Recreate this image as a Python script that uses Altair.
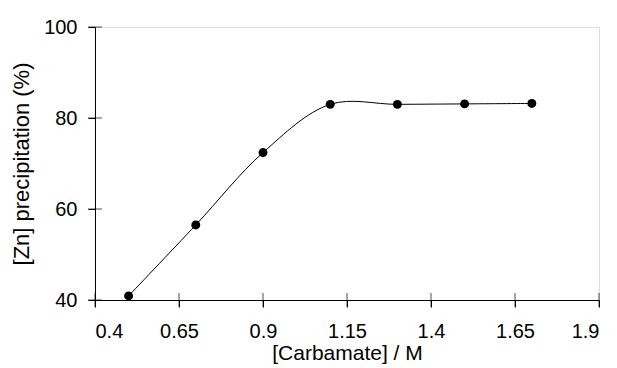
import altair as alt
import pandas as pd

carbamate = [0.5, 0.7, 0.9, 1.1, 1.3, 1.5, 1.7]
zn_precip = [40.9, 56.5, 72.4, 83.0, 83.0, 83.1, 83.2]
x_ticks = [0.4, 0.65, 0.9, 1.15, 1.4, 1.65, 1.9]
y_ticks = [40, 60, 80, 100]

df = pd.DataFrame({"c": carbamate, "p": zn_precip})
dfx = pd.DataFrame({"t": x_ticks})
dfy = pd.DataFrame({"t": y_ticks})

FONT = "Liberation Sans"
xscale = alt.Scale(domain=[0.4, 1.9], nice=False, zero=False)
yscale = alt.Scale(domain=[40, 100], nice=False, zero=False)

xaxis = alt.Axis(values=x_ticks, format=".3~g", grid=False, domainColor="black",
                 tickColor="black", tickSize=7, labelFont=FONT, labelFontSize=20,
                 labelColor="black", labelPadding=14, title="[Carbamate] / M",
                 titleFont=FONT, titleFontSize=21, titleFontWeight="normal",
                 titleColor="black", titlePadding=1)
yaxis = alt.Axis(values=y_ticks, grid=False, domainColor="black",
                 tickColor="black", tickSize=7, labelFont=FONT, labelFontSize=20,
                 labelColor="black", labelPadding=11, title="[Zn] precipitation (%)",
                 titleFont=FONT, titleFontSize=22, titleFontWeight="normal",
                 titleColor="black", titleX=-67, titleBaseline="alphabetic")

X = alt.X("c:Q", scale=xscale, axis=xaxis)
Y = alt.Y("p:Q", scale=yscale, axis=yaxis)

line = alt.Chart(df).mark_line(interpolate="catmull-rom", color="black", strokeWidth=1).encode(
    x=X, y=Y,
)
pts = alt.Chart(df).mark_circle(size=80, color="black", opacity=1).encode(
    x=X, y=Y,
)
xt = alt.Chart(dfx).mark_tick(orient="vertical", size=14, thickness=1, color="black").encode(
    x=alt.X("t:Q", scale=xscale, axis=xaxis),
    y=alt.datum(40),
)
yt = alt.Chart(dfy).mark_tick(orient="horizontal", size=14, thickness=1, color="black").encode(
    y=alt.Y("t:Q", scale=yscale, axis=yaxis),
    x=alt.datum(0.4),
)

chart = alt.layer(line, pts, xt, yt).properties(
    width=504, height=273,
    autosize=alt.AutoSizeParams(type="none"),
    padding={"left": 87, "top": 19, "right": 10, "bottom": 66},
).configure_view(stroke=None).configure(background="white")

chart.save("out.html", embed_options={"renderer": "svg", "actions": False})
